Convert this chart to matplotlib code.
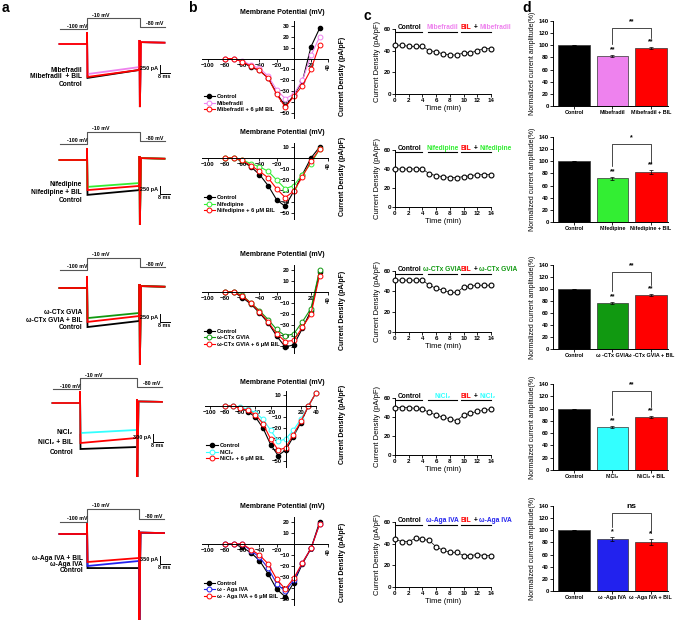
import matplotlib.pyplot as plt

plt.rcParams['font.family'] = ['Liberation Sans', 'DejaVu Sans']
plt.rcParams['font.weight'] = 'bold'
plt.rcParams['axes.linewidth'] = 0.7

W, H = 675, 622
fig = plt.figure(figsize=(6.75, 6.22), dpi=100)

# ---------------- data ----------------
drugs = ['Mibefradil', 'Nifedipine', 'ω-CTx GVIA', 'NiCl₂', 'ω-Aga IVA']
drug_colors = ['#ee82ee', '#33ee33', '#119911', '#33ffff', '#2222ee']

# a: current traces (pA, relative to holding current) -> (start, end of pulse)
a_ctrl = [(-1060, -810), (-1090, -940), (-1220, -1030), (-1725, -1650), (-1490, -1490)]
a_drug = [(-940, -720), (-840, -720), (-940, -780), (-1125, -1010), (-1400, -1180)]
a_bil = [(-1030, -810), (-940, -810), (-1060, -875), (-1500, -1310), (-1225, -1050)]
a_tail_spike = [-1970, -2030, -2400, -2775, -3760]
a_pulse_ms = [42, 42, 42, 45.6, 41.6]
a_scale_pa = [250, 250, 250, 300, 350]
a_labels = [['Mibefradil', 'Mibefradil  + BIL', 'Control'],
            ['Nifedipine', 'Nifedipine + BIL', 'Control'],
            ['ω-CTx GVIA', 'ω-CTx GVIA + BIL', 'Control'],
            ['NiCl₂', 'NiCl₂ + BIL', 'Control'],
            ['ω-Aga IVA + BIL', 'ω-Aga IVA', 'Control']]
proto_mv = [-100, -10, -80]

# b: I-V curves (pA/pF)
iv_v = [-80, -70, -60, -50, -40, -30, -20, -10, 0, 10, 20, 30]
iv_v4 = [-80, -70, -60, -50, -40, -30, -20, -10, 0, 10, 20, 30, 40]
iv_ctrl = [[0, 0, -3, -8, -11, -18, -32, -44, -34, -21, 11, 28],
           [0, 0, -3, -8, -15, -25, -38, -44, -30, -15, 0, 10],
           [0, 0, -5, -11, -19, -28, -40, -50, -48, -33, -17, 18],
           [0, 0, -2, -5, -10, -20, -35, -45, -40, -28, -15, 0, 12],
           [0, 0, -3, -8, -15, -27, -41, -48, -35, -18, -4, 20]]
iv_drug = [[0, 0, -2, -6, -9, -16, -29, -37, -33, -20, 3, 20],
           [0, 0, -2, -5, -8, -12, -20, -28, -25, -15, -5, 8],
           [0, 0, -3, -10, -17, -25, -34, -40, -38, -27, -15, 20],
           [0, 0, -1, -3, -6, -12, -22, -32, -30, -22, -12, 0, 12],
           [0, 0, 0, -6, -12, -22, -36, -43, -33, -17, -4, 18]]
iv_bil = [[0, 0, -3, -7, -11, -18, -33, -45, -35, -25, -10, 13],
          [0, 0, -2, -7, -12, -18, -28, -36, -30, -17, -3, 8],
          [0, 0, -4, -10, -18, -27, -38, -45, -44, -32, -20, 15],
          [0, 0, -2, -4, -8, -16, -30, -40, -38, -26, -14, 0, 12],
          [0, 0, 0, -5, -10, -18, -32, -41, -31, -17, -4, 18]]
iv_legend = [['Control', 'Mibefradil', 'Mibefradil + 6 μM BIL'],
             ['Control', 'Nifedipine', 'Nifedipine + 6 μM BIL'],
             ['Control', 'ω-CTx GVIA', 'ω-CTx GVIA + 6 μM BIL'],
             ['Control', 'NiCl₂', 'NiCl₂ + 6 μM BIL'],
             ['Control', 'ω - Aga IVA', 'ω - Aga IVA + 6 μM BIL']]
iv_ylim = [(-55, 35), (-55, 14), (-55, 25), (-55, 14), (-55, 25)]
iv_yticks = [[30, 20, 10, -10, -20, -30, -40, -50],
             [10, -10, -20, -30, -40, -50],
             [20, 10, -10, -20, -30, -40, -50],
             [10, -10, -20, -30, -40, -50],
             [20, 10, -10, -20, -30, -40, -50]]

# c: time course (pA/pF)
tc_time = list(range(15))
tc_vals = [[45, 45, 44, 44, 44, 40, 39, 37, 36, 36, 38, 38, 40, 42, 42],
           [40, 40, 40, 40, 40, 35, 33, 32, 31, 31, 32, 33, 34, 34, 34],
           [51, 51, 51, 51, 51, 46, 43, 41, 39, 39, 44, 45, 46, 46, 46],
           [50, 50, 50, 49, 48, 45, 42, 40, 38, 36, 42, 44, 46, 47, 48],
           [44, 42, 42, 45, 44, 43, 37, 34, 32, 32, 29, 29, 30, 29, 29]]

# d: normalized amplitudes (%)
amp = [[100, 82, 96], [100, 72, 82], [100, 77, 90], [100, 70, 86], [100, 86, 80]]
amp_err = [[0, 1.5, 1.5], [0, 2, 3], [0, 1.5, 1.5], [0, 2, 2], [0, 3, 5]]
amp_stars = [['**', '**'], ['**', '**'], ['**', '**'], ['**', '**'], ['*', '*']]
amp_bracket = ['**', '*', '**', '**', 'ns']

# ---------------- layout (pixels) ----------------
a_base_y = [44, 160, 288, 403, 534]
a_onset_x = [87, 87, 87, 80, 87]
a_proto_px = [(29, 18), (144, 132), (270, 258), (389, 378), (522, 509)]
a_lab_x = [82, 82, 82, 73, 83]
a_lab_y = [[70, 77, 84], [185, 192, 200], [313, 320, 328], [432, 443, 453], [558, 564, 570]]
a_bar_drop = [29, 34, 34, 39, 30]
b_zero_y = [58.6, 158, 292, 406, 544]
b_x_anchor = [(208, 311), (208, 311), (208, 311), (210, 316), (208, 311)]
b_x_anchor_v = [(-100, 20), (-100, 20), (-100, 20), (-100, 40), (-100, 20)]
b_title_y = [13, 132, 255, 383, 507]
c_y = [(29, 94), (150, 207), (271, 332), (398, 455), (522, 587)]
d_y = [(21, 106), (137, 222), (265, 349), (384, 470), (506, 591)]


def add_ax(x0, y0, x1, y1):
    return fig.add_axes([x0 / W, 1 - y1 / H, (x1 - x0) / W, (y1 - y0) / H])


def ftext(x, y, s, **kw):
    fig.text(x / W, 1 - y / H, s, **kw)


for lab, (x, y) in zip('abcd', [(5, 8), (192, 8), (367, 16), (527, 8)]):
    ftext(x, y, lab, fontsize=10, fontweight='bold', ha='center', va='center')

for r in range(5):
    col = drug_colors[r]

    # ---------- a: traces ----------
    ms_px = 1.25
    pa_px = a_scale_pa[r] / 8.0
    y0, x0 = a_base_y[r], a_onset_x[r]
    top, bot = y0 - 42, y0 + 92
    ax = add_ax(40, top, 178, bot)
    ax.set_xlim((40 - x0) / ms_px, (178 - x0) / ms_px)
    ax.set_ylim(-(bot - y0) * pa_px, (y0 - top) * pa_px)
    ax.axis('off')
    tp = a_pulse_ms[r]
    for (s, e), c in zip([a_ctrl[r], a_drug[r], a_bil[r]], ['black', col, 'red']):
        ts = [-22, 0, 0, 0.4, tp, tp, tp + 0.3, tp + 1.2, tp + 20]
        ys = [0, 0, 12 * pa_px, s, e, 4 * pa_px, a_tail_spike[r], 60, 40]
        ax.plot(ts, ys, color=c, lw=1.3, solid_joinstyle='miter')
    # scale bar
    sb_t = 58
    sb_b = -a_bar_drop[r] * pa_px
    ax.plot([sb_t, sb_t, sb_t + 8], [sb_b + a_scale_pa[r], sb_b, sb_b], color='black', lw=0.7)
    ax.text(sb_t - 1, sb_b + a_scale_pa[r] * 0.6, f'{a_scale_pa[r]} pA', fontsize=4,
            ha='right', va='center')
    ax.text(sb_t + 4, sb_b - 40, '8 ms', fontsize=4, ha='center', va='top')

    # protocol
    p100, p10 = a_proto_px[r]
    k = (p100 - p10) / 90.0
    axp = ax.twinx()
    axp.set_ylim(-10 - (bot - p10) / k, -10 + (p10 - top) / k)
    axp.axis('off')
    axp.plot([-22, 0, 0, tp, tp, tp + 20],
             [proto_mv[0], proto_mv[0], proto_mv[1], proto_mv[1], proto_mv[2], proto_mv[2]],
             color='#555555', lw=0.8)
    axp.text(-16, proto_mv[0] + 4, '-100 mV', fontsize=3.8, va='bottom')
    axp.text(4, proto_mv[1] + 4, '-10 mV', fontsize=3.8, va='bottom')
    axp.text(tp + 5, proto_mv[2] + 4, '-80 mV', fontsize=3.8, va='bottom')
    for txt, yy in zip(a_labels[r], a_lab_y[r]):
        ftext(a_lab_x[r], yy, txt, fontsize=4.8, ha='right', va='center')

    # ---------- b: I-V ----------
    (px1, px2), (v1, v2) = b_x_anchor[r], b_x_anchor_v[r]
    mvpx = (px2 - px1) / (v2 - v1)
    xzero = px1 - v1 * mvpx
    ppu = 1.1 if r else 1.08
    ylo, yhi = iv_ylim[r]
    z = b_zero_y[r]
    ax = add_ax(xzero - 107 * mvpx, z - yhi * ppu, xzero + 40 * mvpx, z - ylo * ppu)
    ax.set_xlim(-107, 40)
    ax.set_ylim(ylo, yhi)
    ax.patch.set_visible(False)
    ax.spines['top'].set_visible(False)
    ax.spines['right'].set_visible(False)
    ax.spines['left'].set_position(('data', 0))
    ax.spines['bottom'].set_position(('data', 0))
    ax.set_xticks([-100, -80, -60, -40, -20, 20, 40])
    ax.set_yticks(iv_yticks[r])
    ax.tick_params(direction='out', length=2, width=0.6, labelsize=4.3, pad=1)
    if r != 3:
        ax.get_xticklabels()[-1].set_rotation(90)
    vv = iv_v4 if r == 3 else iv_v
    ax.plot(vv, iv_ctrl[r], '-o', color='black', mfc='black', ms=3, lw=0.8,
            label=iv_legend[r][0], clip_on=False)
    ax.plot(vv, iv_drug[r], '-o', color=col, mfc='white', ms=3.5, mew=0.7, lw=0.8,
            label=iv_legend[r][1], clip_on=False)
    ax.plot(vv, iv_bil[r], '-o', color='red', mfc='white', ms=3.5, mew=0.7, lw=0.8,
            label=iv_legend[r][2], clip_on=False)
    ax.legend(loc='lower left', bbox_to_anchor=(-0.01, 0.03), frameon=False, fontsize=4.1,
              handlelength=2.0, labelspacing=0.3, borderpad=0, handletextpad=0.3)
    ftext(282, b_title_y[r], 'Membrane Potential (mV)', fontsize=5, ha='center', va='center')
    ftext(342, z + 18, 'Current Density (pA/pF)', fontsize=5, rotation=90, ha='center', va='center')

    # ---------- c: time course ----------
    ax = add_ax(395, c_y[r][0], 491, c_y[r][1])
    ax.set_xlim(0, 14)
    ax.set_ylim(0, 60)
    ax.plot(tc_time, tc_vals[r], '-o', color='black', lw=0.5, ms=3.5, mfc='white', mew=0.8,
            clip_on=False, zorder=3)
    ax.spines['top'].set_visible(False)
    ax.spines['right'].set_visible(False)
    ax.set_xticks(range(0, 15, 2))
    ax.set_yticks([0, 20, 40, 60])
    ax.tick_params(direction='out', length=2, width=0.6, labelsize=4.5, pad=1)
    ax.set_xlabel('Time (min)', fontsize=5.5, labelpad=1)
    ax.set_ylabel('Current Density (pA/pF)', fontsize=5.5, labelpad=2)
    for xa, xb in [(0.2, 4.0), (4.8, 9.0), (9.6, 14.0)]:
        ax.plot([xa, xb], [57.5, 57.5], color='black', lw=0.8, clip_on=False)
    ax.text(2.1, 58.3, 'Control', fontsize=4.8, ha='center', va='bottom')
    ax.text(6.9, 58.3, drugs[r], fontsize=4.8, ha='center', va='bottom', color=col)
    tb = ax.text(9.6, 58.3, 'BIL', fontsize=4.8, ha='left', va='bottom', color='red')
    ax.annotate(' + ', xy=(1, 0), xycoords=tb, fontsize=4.8, va='bottom', ha='left',
                color='black', annotation_clip=False)
    ax.annotate(drugs[r], xy=(1, 0), xycoords=ax.texts[-1], fontsize=4.8, va='bottom',
                ha='left', color=col, annotation_clip=False)

    # ---------- d: bars ----------
    ax = add_ax(553, d_y[r][0], 668, d_y[r][1])
    ax.bar([0, 1, 2], amp[r], width=0.83, color=['black', col, 'red'],
           edgecolor='#333333', lw=0.5, yerr=amp_err[r], capsize=1.2,
           error_kw=dict(lw=0.5, capthick=0.5))
    ax.set_xlim(-0.55, 2.45)
    ax.set_ylim(0, 140)
    ax.set_yticks(range(0, 141, 20))
    ax.set_xticks([0, 1, 2])
    d_short = drugs[r].replace('ω-', 'ω -')
    ax.set_xticklabels(['Control', d_short, d_short + ' + BIL'])
    ax.spines['top'].set_visible(False)
    ax.spines['right'].set_visible(False)
    ax.tick_params(axis='y', direction='out', length=2, width=0.6, labelsize=4.3, pad=1)
    ax.tick_params(axis='x', direction='out', length=2, width=0.6, labelsize=3.9, pad=1)
    ax.set_ylabel('Normalized current amplitude(%)', fontsize=5, labelpad=2)
    for i in (1, 2):
        ax.text(i, amp[r][i] + amp_err[r][i] + 3, amp_stars[r][i - 1], fontsize=5,
                ha='center', va='bottom')
    hb = 128
    ax.plot([1, 1, 2, 2], [amp[r][1] + 20, hb, hb, amp[r][2] + 16], color='black', lw=0.5,
            clip_on=False)
    ax.text(1.5, hb + 5, amp_bracket[r], fontsize=5 if amp_bracket[r] != 'ns' else 6,
            ha='center', va='bottom')

fig.savefig('out.png', dpi=100)
